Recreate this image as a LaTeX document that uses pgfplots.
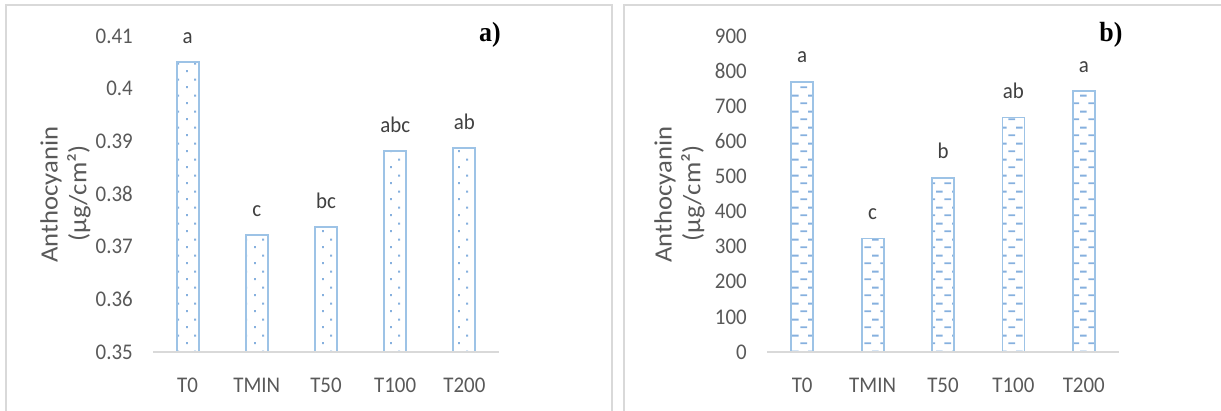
\documentclass[border=0pt]{standalone}
\usepackage{fontspec}
\setmainfont{Carlito}
\newfontfamily\serifb{Liberation Serif}
\usepackage{pgfplots}
\usepackage{pgfplotstable}
\pgfplotsset{compat=1.18}
\usetikzlibrary{patterns.meta}
\definecolor{barblue}{HTML}{9DC3E6}
\definecolor{patblue}{HTML}{86B0DE}
\definecolor{tickgray}{HTML}{595959}
\definecolor{lblgray}{HTML}{404040}
\definecolor{framegray}{HTML}{D9D9D9}

\tikzdeclarepattern{
  name=xldots,
  type=uncolored,
  bottom left={(0bp,0bp)},
  top right={(16.6bp,16bp)},
  tile size={(16.6bp,16bp)},
  code={
    \fill (3.1bp,3.1bp) rectangle (5.1bp,5.1bp);
    \fill (11.4bp,11.1bp) rectangle (13.4bp,13.1bp);
  }
}
\tikzdeclarepattern{
  name=xldashes,
  type=uncolored,
  bottom left={(0bp,0bp)},
  top right={(16bp,16bp)},
  tile size={(16bp,16bp)},
  code={
    \fill (0.5bp,3bp) rectangle (7.5bp,5bp);
    \fill (8.5bp,11bp) rectangle (15.5bp,13bp);
  }
}

\pgfplotstableread{
x y lab
0 0.4050 a
1 0.3722 c
2 0.3737 bc
3 0.3881 abc
4 0.3887 ab
}\dataA
\pgfplotstableread{
x y lab
0 770 a
1 323 c
2 496 b
3 668 ab
4 743 a
}\dataB

\pgfplotsset{
  common/.style={
    scale only axis,
    anchor=south west,
    xmin=-0.5, xmax=4.5,
    xtick={0,1,2,3,4},
    xticklabels={T0,TMIN,T50,T100,T200},
    major tick length=0pt,
    axis line style={draw=none},
    /pgf/number format/assume math mode=true,
    tick label style={font=\fontsize{21}{25}\selectfont, text=tickgray, yscale=1.07, transform shape},
    xticklabel style={anchor=base, yshift=-38bp, inner sep=0pt},
    yticklabel style={anchor=east, inner sep=0pt, xshift=-20bp},
    ybar, bar width=22bp,
    nodes near coords, point meta=explicit symbolic,
    every node near coord/.append style={font=\fontsize{21}{25}\selectfont, text=lblgray, anchor=base, yshift=19bp, yscale=1.07, transform shape},
    after end axis/.code={\draw[framegray, line width=1.5bp] (rel axis cs:0,0) -- (rel axis cs:1,0);},
  }
}
\tikzset{ylab/.style={rotate=90, xscale=1.07, transform shape, anchor=center, inner sep=0pt,
  font=\fontsize{25}{29}\selectfont, text=tickgray}}

\begin{document}
\begin{tikzpicture}
\useasboundingbox (0,0) rectangle (1221bp,411bp);
\draw[framegray, line width=1.5bp] (6bp,-5bp) -- (6bp,406bp) -- (612bp,406bp) -- (612bp,-5bp);
\draw[framegray, line width=1.5bp] (624bp,-5bp) -- (624bp,406bp) -- (1230bp,406bp);

\begin{axis}[common,
  at={(153bp,59bp)}, width=346bp, height=342.3bp,
  ymin=0.35, ymax=0.415,
  ytick={0.35,0.36,0.37,0.38,0.39,0.40,0.41},
  yticklabels={0.35,0.36,0.37,0.38,0.39,0.4,0.41},
]
\addplot[draw=barblue, line width=1.8bp, pattern=xldots, pattern color=patblue]
  table[x=x, y=y, meta=lab] {\dataA};
\end{axis}

\begin{axis}[common,
  at={(767bp,59bp)}, width=352bp, height=333.6bp,
  ymin=0, ymax=950,
  ytick={0,100,200,300,400,500,600,700,800,900},
]
\addplot[draw=barblue, line width=1.8bp, pattern=xldashes, pattern color=patblue]
  table[x=x, y=y, meta=lab] {\dataB};
\end{axis}

\node[ylab] at (51bp,216.5bp) {Anthocyanin};
\node[ylab] at (79bp,217.5bp) {(µg/cm²)};
\node[ylab] at (665bp,216.5bp) {Anthocyanin};
\node[ylab] at (693bp,217.5bp) {(µg/cm²)};

\node[font=\serifb\bfseries\fontsize{26}{26}\selectfont, text=black, yscale=1.07, transform shape] at (490bp,376bp) {a)};
\node[font=\serifb\bfseries\fontsize{26}{26}\selectfont, text=black, yscale=1.07, transform shape] at (1111bp,376bp) {b)};
\end{tikzpicture}
\end{document}
